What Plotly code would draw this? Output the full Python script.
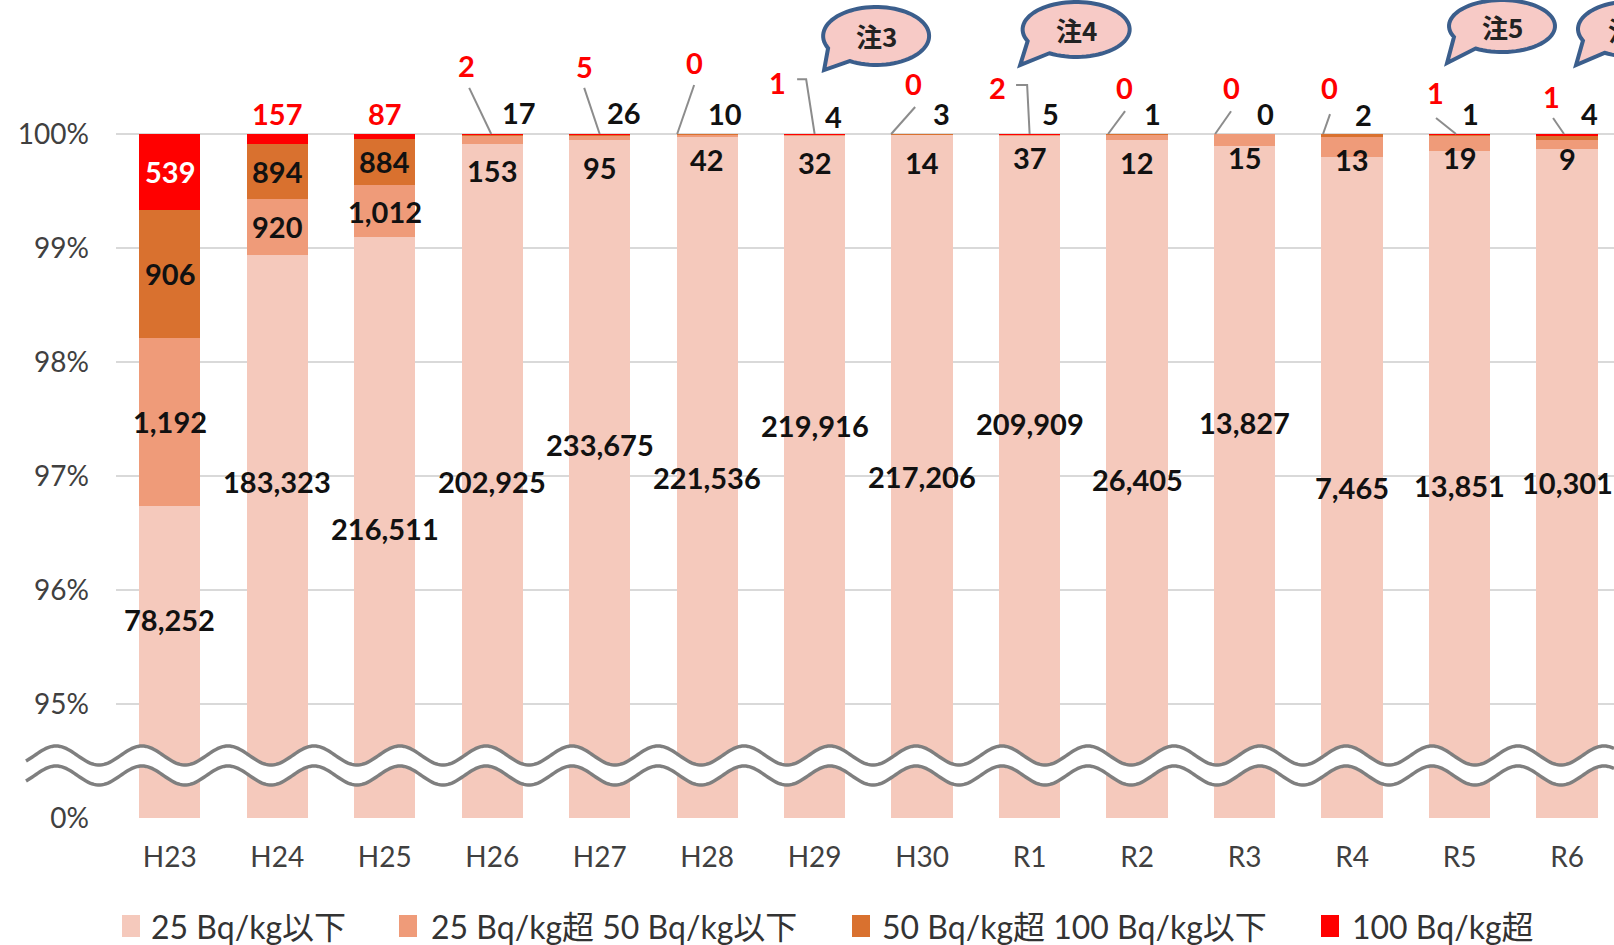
import math
import plotly.graph_objects as go

# ---- data -----------------------------------------------------------------
years = ["H23", "H24", "H25", "H26", "H27", "H28", "H29", "H30",
         "R1", "R2", "R3", "R4", "R5", "R6"]

le25 = [78252, 183323, 216511, 202925, 233675, 221536, 219916, 217206,
        209909, 26405, 13827, 7465, 13851, 10301]
gt25_le50 = [1192, 920, 1012, 153, 95, 42, 32, 14, 37, 12, 15, 13, 19, 9]
gt50_le100 = [906, 894, 884, 17, 26, 10, 4, 3, 5, 1, 0, 2, 1, 4]
gt100 = [539, 157, 87, 2, 5, 0, 1, 0, 2, 0, 0, 0, 1, 1]

series_names = ["25 Bq/kg以下", "25 Bq/kg超 50 Bq/kg以下",
                "50 Bq/kg超 100 Bq/kg以下", "100 Bq/kg超"]
series = [le25, gt25_le50, gt50_le100, gt100]

y_tick_pct = [0, 95, 96, 97, 98, 99, 100]
notes = ["注3", "注4", "注5", "注6"]

# ---- styling / placement --------------------------------------------------
colors = ["#F5C9BC", "#EF9B79", "#D9712F", "#FF0000"]
W, H = 1614, 945
M_L, M_B = 116, 127
PLOT_H = H - M_B              # plot spans the full height above the x axis
Y_UNIT = 114.0                # px per axis unit
X_RANGE = [-0.5, 13.437]
X_UNIT = (W - M_L) / (X_RANGE[1] - X_RANGE[0])

# label heights (in %) for the 25 Bq/kg以下 counts
lab_le25_pct = [95.74, 96.95, 96.54, 96.95, 97.28, 96.99, 97.44, 97.00,
                97.46, 96.97, 97.47, 96.90, 96.92, 96.94]
# label heights (in %) for small 25-50 segments (H26 onwards)
lab_small_pct = [99.684, 99.702, 99.772, 99.746, 99.754, 99.798,
                 99.746, 99.798, 99.772, 99.798, 99.789]
# 50-100 labels above the bars (H26 onwards): x offset, height %
lab_above_dx = [0.25, 0.23, 0.17, 0.18, 0.18, 0.19, 0.14, 0.19, 0.11, 0.10, 0.21]
lab_above_pct = [100.19, 100.19, 100.18, 100.15, 100.18, 100.18,
                 100.18, 100.18, 100.17, 100.18, 100.18]
# >100 labels (H26 onwards): x offset, height %, leader polyline
lab_red_dx = [-0.24, -0.144, -0.12, -0.349, -0.084, -0.302,
              -0.121, -0.126, -0.214, -0.228, -0.149]
lab_red_pct = [100.605, 100.588, 100.63, 100.456, 100.447, 100.412,
               100.412, 100.412, 100.404, 100.36, 100.325]
leaders = [
    [(-0.214, 100.404), (-0.009, 100.0)],
    [(-0.144, 100.404), (0.0, 100.0)],
    [(-0.121, 100.43), (-0.279, 100.0)],
    [(-0.163, 100.48), (-0.079, 100.48), (0.0, 100.0)],
    [(-0.065, 100.237), (-0.288, 100.0)],
    [(-0.126, 100.43), (-0.023, 100.43), (0.0, 100.0)],
    [(-0.112, 100.2), (-0.27, 100.0)],
    [(-0.126, 100.2), (-0.274, 100.0)],
    [(-0.205, 100.175), (-0.27, 100.0)],
    [(-0.219, 100.14), (-0.033, 100.0)],
    [(-0.13, 100.14), (-0.028, 100.0)],
]
# speech bubbles: centre x, centre y (axis units), rx, ry, tail tip
bubbles = [
    (6.572, 6.860, 0.493, 0.254, (6.088, 6.561)),
    (8.433, 6.917, 0.498, 0.241, (7.912, 6.605)),
    (12.395, 6.947, 0.493, 0.228, (11.884, 6.623)),
    (13.595, 6.921, 0.493, 0.241, (13.084, 6.605)),
]


def to_axis(pct):
    """Broken scale: 0-95% squeezed into one unit, 1 unit per % above."""
    return pct / 95.0 if pct <= 95 else pct - 94.0


n = len(years)
totals = [sum(s[i] for s in series) for i in range(n)]
cum = [[0.0] * n]
for s in series:
    cum.append([cum[-1][i] + 100.0 * s[i] / totals[i] for i in range(n)])
cum[-1] = [100.0] * n

fig = go.Figure()
xs = list(range(n))
for k, (name, color) in enumerate(zip(series_names, colors)):
    base = [to_axis(cum[k][i]) for i in xs]
    top = [to_axis(cum[k + 1][i]) for i in xs]
    fig.add_trace(go.Bar(
        x=xs, y=[t - b for t, b in zip(top, base)], base=base,
        name=name, marker=dict(color=color, line=dict(width=0)),
        width=0.57, showlegend=False, hoverinfo="skip",
    ))

LBL_FONT = "Lato, 'Noto Sans CJK JP', sans-serif"
annotations = []
shapes = []


def label(x, y, text, color="#111111", size=29):
    annotations.append(dict(
        x=x, y=y, xref="x", yref="y", text=f"<b>{text}</b>",
        showarrow=False, xanchor="center", yanchor="middle",
        font=dict(family=LBL_FONT, size=size, color=color),
    ))


def mid(k, i):
    return (to_axis(cum[k][i]) + to_axis(cum[k + 1][i])) / 2


for i in xs:
    label(i, to_axis(lab_le25_pct[i]), f"{le25[i]:,}")
    if i < 3:
        label(i, mid(1, i), f"{gt25_le50[i]:,}")
        label(i, mid(2, i), f"{gt50_le100[i]:,}")
        if i == 0:
            label(i, mid(3, i), f"{gt100[i]:,}", color="#FFFFFF")
        else:
            label(i, to_axis(100.18), f"{gt100[i]:,}", color="#FF0000")
    else:
        j = i - 3
        label(i, to_axis(lab_small_pct[j]), f"{gt25_le50[i]:,}")
        label(i + lab_above_dx[j], to_axis(lab_above_pct[j]), f"{gt50_le100[i]:,}")
        label(i + lab_red_dx[j], to_axis(lab_red_pct[j]), f"{gt100[i]:,}", color="#FF0000")
        pts = [(i + dx, to_axis(p)) for dx, p in leaders[j]]
        shapes.append(dict(
            type="path", xref="x", yref="y", layer="above",
            path="M " + " L ".join(f"{a:.4f},{b:.4f}" for a, b in pts),
            line=dict(color="#8C8C8C", width=2),
        ))

# speech bubbles with notes
for (cx, cy, rx, ry, tip), note in zip(bubbles, notes):
    a0, a1 = math.radians(240), math.radians(205 + 360)
    pts = []
    steps = 72
    for s in range(steps + 1):
        t = a0 + (a1 - a0) * s / steps
        pts.append((cx + rx * math.cos(t), cy + ry * math.sin(t)))
    pts.append(tip)
    shapes.append(dict(
        type="path", xref="x", yref="y", layer="above",
        path="M " + " L ".join(f"{a:.4f},{b:.4f}" for a, b in pts) + " Z",
        fillcolor="#F7CAC6", line=dict(color="#3B5E8C", width=4),
    ))
    # keep the text anchor inside the axis range so the note stays drawn
    text_x = min(cx, X_RANGE[1] - 0.075)
    annotations.append(dict(
        x=text_x, y=cy, xref="x", yref="y", text=f"<b>{note}</b>",
        showarrow=False, xanchor="center" if text_x == cx else "left",
        yanchor="middle",
        font=dict(family="'Noto Sans CJK JP', sans-serif", size=26, color="#222222"),
    ))


# axis-break wave drawn across the bars (paper coordinates)
def px_to_paper(px, py):
    return (px - M_L) / (W - M_L), (PLOT_H - py) / PLOT_H


PERIOD, AMP = 86.0, 9.5
wx = [26 + 2 * s for s in range(int((W - 26) / 2) + 1)]
top_line = [(x, 755.5 - AMP * math.cos(2 * math.pi * (x - 56) / PERIOD)) for x in wx]
bot_line = [(x, 775.5 - AMP * math.cos(2 * math.pi * (x - 56) / PERIOD)) for x in wx]


def poly(points):
    return " L ".join("{:.5f},{:.5f}".format(*px_to_paper(x, y)) for x, y in points)


shapes.append(dict(
    type="path", xref="paper", yref="paper", layer="above",
    path="M " + poly(top_line) + " L " + poly(bot_line[::-1]) + " Z",
    fillcolor="#FFFFFF", line=dict(width=0),
))
for line_pts in (top_line, bot_line):
    shapes.append(dict(
        type="path", xref="paper", yref="paper", layer="above",
        path="M " + poly(line_pts),
        line=dict(color="#7F7F7F", width=3.5),
    ))

# legend row
legend_items = [(122, 149), (399, 429), (852, 880), (1321, 1350)]
for (sx, tx), name, color in zip(legend_items, series_names, colors):
    x0, y0 = px_to_paper(sx, 937)
    x1, y1 = px_to_paper(sx + 18, 915)
    shapes.append(dict(type="rect", xref="paper", yref="paper",
                       x0=x0, y0=y0, x1=x1, y1=y1,
                       fillcolor=color, line=dict(width=0)))
    tx_p, ty_p = px_to_paper(tx, 926)
    annotations.append(dict(
        x=tx_p, y=ty_p, xref="paper", yref="paper", text=name,
        showarrow=False, xanchor="left", yanchor="middle",
        font=dict(family=LBL_FONT, size=32, color="#333333"),
    ))

fig.update_layout(
    width=W, height=H,
    margin=dict(l=M_L, r=0, t=0, b=M_B, pad=0),
    paper_bgcolor="#FFFFFF", plot_bgcolor="#FFFFFF",
    barmode="overlay", bargap=0,
    showlegend=False,
    annotations=annotations, shapes=shapes,
    xaxis=dict(
        range=X_RANGE, tickmode="array", tickvals=xs, ticktext=years,
        showgrid=False, zeroline=False, showline=False, ticks="",
        tickfont=dict(family=LBL_FONT, size=28, color="#404040"),
        ticklabelstandoff=20, fixedrange=True,
    ),
    yaxis=dict(
        range=[0, PLOT_H / Y_UNIT], tickmode="array",
        tickvals=[to_axis(p) for p in y_tick_pct],
        ticktext=[f"{p}%" for p in y_tick_pct],
        showgrid=True, gridcolor="#D9D9D9", gridwidth=2,
        zeroline=False, showline=False, ticks="",
        tickfont=dict(family=LBL_FONT, size=28, color="#404040"),
        ticklabelstandoff=26, fixedrange=True,
    ),
)

fig.write_html("out.html")
